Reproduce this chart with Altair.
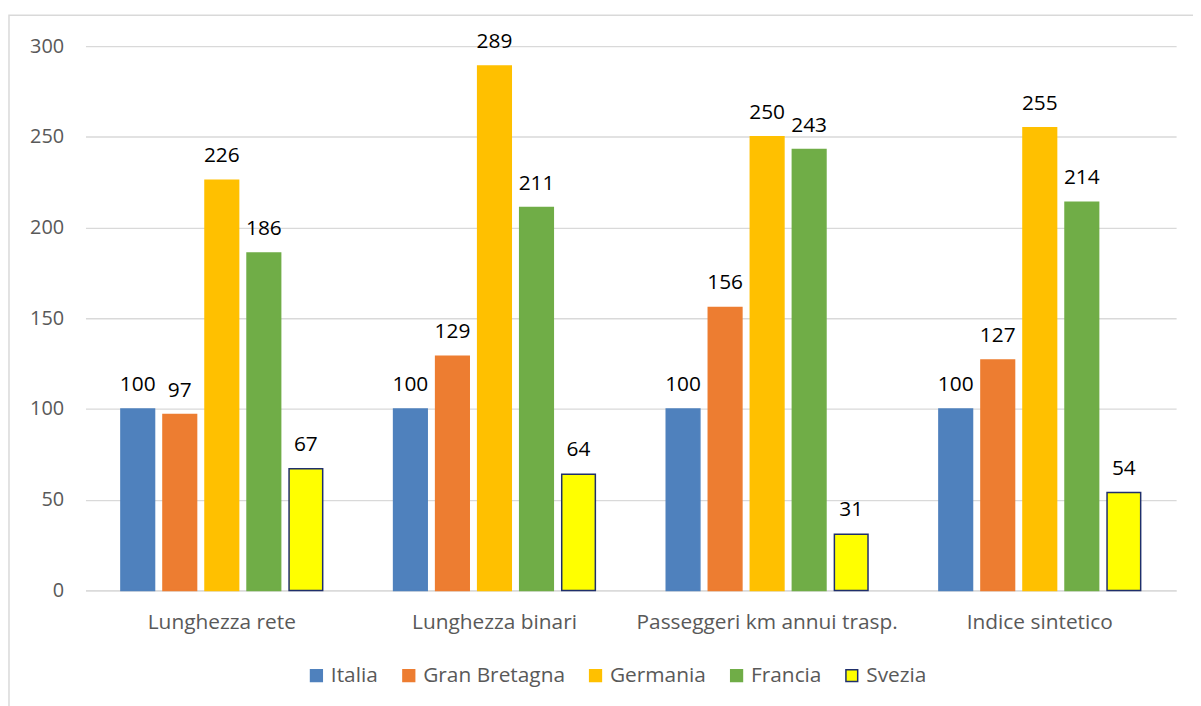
import altair as alt
import pandas as pd

categories = ["Lunghezza rete", "Lunghezza binari", "Passeggeri km annui trasp.", "Indice sintetico"]
countries = ["Italia", "Gran Bretagna", "Germania", "Francia", "Svezia"]
italia = [100, 100, 100, 100]
gran_bretagna = [97, 129, 156, 127]
germania = [226, 289, 250, 255]
francia = [186, 211, 243, 214]
svezia = [67, 64, 31, 54]

fill_colors = ["#4F81BD", "#ED7D31", "#FFC000", "#70AD47", "#FFFF00"]
stroke_colors = ["#4F81BD", "#ED7D31", "#FFC000", "#70AD47", "#1F2F6B"]

series = [italia, gran_bretagna, germania, francia, svezia]
rows = []
for country, vals in zip(countries, series):
    for cat, v in zip(categories, vals):
        rows.append({"Categoria": cat, "Paese": country, "Valore": v})
df = pd.DataFrame(rows)

FONT = "Open Sans"
W, H = 1098, 548

x_enc = alt.X("Categoria:N", sort=categories, title=None,
              scale=alt.Scale(paddingInner=0.26, paddingOuter=0.13),
              axis=alt.Axis(labelAngle=0, labelFontSize=21, labelColor="#595959",
                            labelFont=FONT, ticks=False, domainColor="#D9D9D9",
                            domainWidth=1.3, labelPadding=21, labelLimit=0))
xoff = alt.XOffset("Paese:N", sort=countries,
                   scale=alt.Scale(paddingInner=0.2, paddingOuter=0.0))
y_enc = alt.Y("Valore:Q", title=None,
              scale=alt.Scale(domain=[0, 300]),
              axis=alt.Axis(values=[0, 50, 100, 150, 200, 250, 300], labelFontSize=20,
                            labelColor="#595959", labelFont=FONT, ticks=False,
                            domain=False, gridColor="#D9D9D9", gridWidth=1.3,
                            labelPadding=22))

bars = alt.Chart(df).mark_bar(strokeWidth=1.5).encode(
    x=x_enc,
    xOffset=xoff,
    y=y_enc,
    color=alt.Color("Paese:N", sort=countries,
                    scale=alt.Scale(domain=countries, range=fill_colors),
                    legend=alt.Legend(title=None, orient="none", direction="horizontal",
                                      legendX=222, legendY=623,
                                      labelFontSize=21, labelColor="#595959", labelFont=FONT,
                                      symbolType="square", symbolSize=140, symbolStrokeWidth=1.5,
                                      columnPadding=20, labelOffset=4)),
    stroke=alt.Stroke("Paese:N", sort=countries,
                      scale=alt.Scale(domain=countries, range=stroke_colors),
                      legend=None),
)

labels = alt.Chart(df).mark_text(baseline="bottom", dy=-14, fontSize=21, font=FONT,
                                 color="#000000").encode(
    x=alt.X("Categoria:N", sort=categories),
    xOffset=alt.XOffset("Paese:N", sort=countries),
    y="Valore:Q",
    text="Valore:Q",
)

border = alt.Chart(pd.DataFrame({"a": [0]})).mark_rect(
    fill=None, stroke="#D9D9D9", strokeWidth=1.5
).encode(
    x=alt.value(-77), x2=alt.value(W + 60),
    y=alt.value(-31), y2=alt.value(H + 200),
)

chart = alt.layer(border, bars, labels).properties(
    width=W, height=H,
    autosize=alt.AutoSizeParams(type="none"),
    padding={"left": 78, "top": 36, "right": 17, "bottom": 114},
).configure(background="white").configure_view(stroke=None)

chart.save("out.html", embed_options={"renderer": "svg", "actions": False})
